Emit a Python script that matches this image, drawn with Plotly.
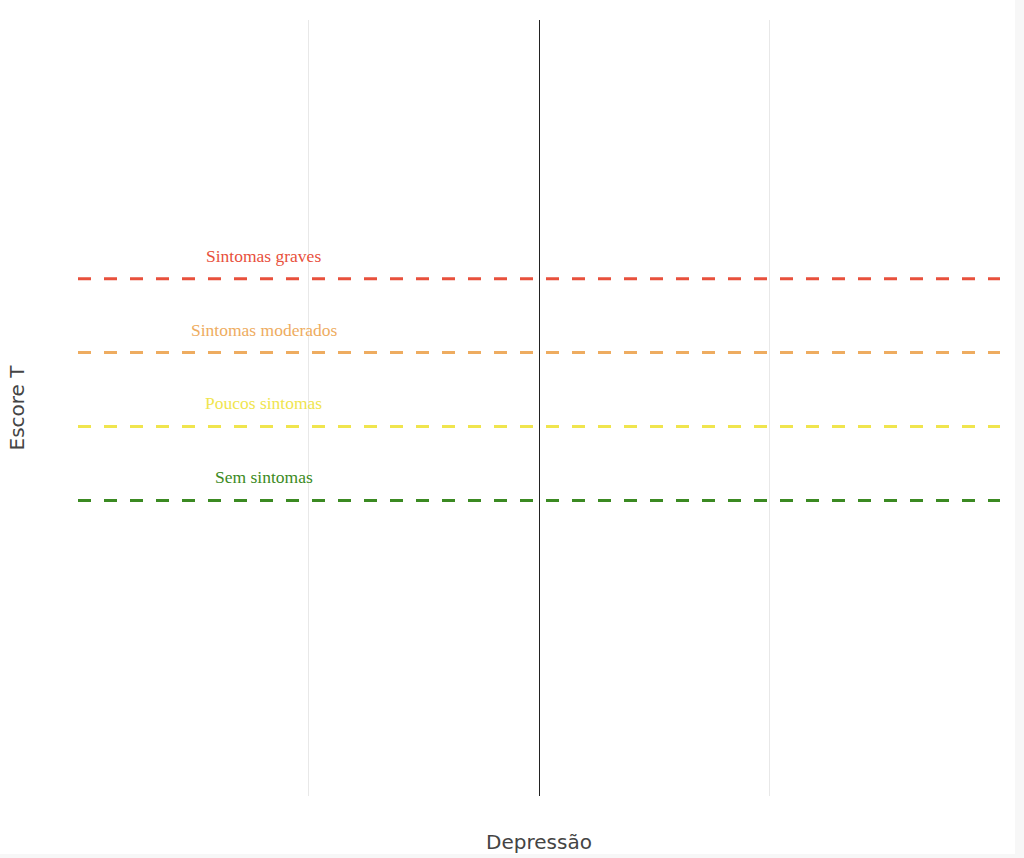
import plotly.graph_objects as go

# Data
levels = ["Sintomas graves", "Sintomas moderados", "Poucos sintomas", "Sem sintomas"]
thresholds = [70, 60, 50, 40]
colors = ["#E8503C", "#EEAC60", "#F0E54E", "#3B8A22"]
x_range = [-1, 1]
y_range = [0, 105]
label_x = -0.597

fig = go.Figure()
for name, val, col in zip(levels, thresholds, colors):
    fig.add_trace(go.Scatter(
        x=x_range, y=[val, val], mode="lines", name=name,
        line=dict(color=col, width=3, dash="13px,13px"),
        hoverinfo="skip", showlegend=False,
    ))
    fig.add_annotation(
        x=label_x, y=val, xref="x", yref="y", text=name, showarrow=False,
        yshift=23, font=dict(family="Liberation Serif", size=17.5, color=col),
    )

fig.update_layout(
    width=1015, height=854,
    margin=dict(l=78, r=15, t=20, b=58),
    plot_bgcolor="white", paper_bgcolor="white",
    showlegend=False,
    font=dict(family="DejaVu Sans", color="#444"),
    xaxis=dict(
        range=x_range, dtick=0.5, showticklabels=False, ticks="",
        showgrid=True, gridcolor="#e8e8e8", gridwidth=1,
        zeroline=True, zerolinecolor="#222", zerolinewidth=1,
        title=dict(text="Depressão", font=dict(size=20, color="#444"), standoff=40),
        automargin=False,
    ),
    yaxis=dict(
        range=y_range, showticklabels=False, ticks="",
        showgrid=False, zeroline=False,
        title=dict(text="Escore T", font=dict(size=20, color="#444"), standoff=47),
        automargin=False,
    ),
)

fig.write_html("out.html", config={"displayModeBar": False},
               post_script="document.body.style.background='#f7f7f7';document.body.style.margin='0';")
